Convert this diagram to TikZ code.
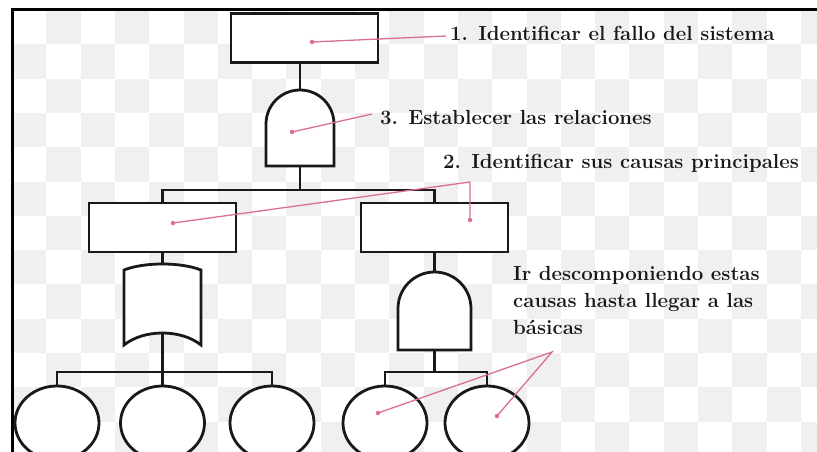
\documentclass[tikz,border=0pt]{standalone}
\usepackage{fontspec}
\usetikzlibrary{shapes.geometric}
\definecolor{pinkln}{RGB}{218,112,142}
\definecolor{checker}{RGB}{240,240,240}
\definecolor{txt}{RGB}{25,25,25}
\begin{document}
\begin{tikzpicture}[x=1pt,y=-1pt,
  ln/.style={line width=2.8pt,draw=black!90},
  box/.style={ln,rectangle,minimum width=147pt,minimum height=49pt,inner sep=0pt,fill=white},
  leaf/.style={ln,ellipse,minimum width=84pt,minimum height=74pt,inner sep=0pt,fill=white},
  gatefill/.style={ln,fill=white},
  pk/.style={draw=pinkln,line width=1.3pt},
  pdot/.style={fill=pinkln,circle,inner sep=0pt,minimum size=4.5pt},
  lbl/.style={inner sep=0pt,text=txt,font=\fontsize{20.4}{27}\selectfont\bfseries,align=left}]
\useasboundingbox (0,0) rectangle (817,452);
\fill[white] (0,0) rectangle (817,452);
% checkerboard background
\begin{scope}
\clip (12,10) rectangle (817,452);
\foreach \i in {0,...,23}{
  \foreach \j in {0,...,12}{
    \pgfmathtruncatemacro\s{\i+\j}
    \ifodd\s
      \fill[checker] ({12+34.3*\i},{10+34.3*\j}) rectangle ++(34.3,34.3);
    \fi
  }
}
\end{scope}
% frame (top and left visible)
\draw[line width=3pt,black] (12,460) -- (12,10) -- (830,10);

% nodes
\node[box] (b0) at (304.5,38) {};
\node[box] (b1) at (162.5,227.5) {};
\node[box] (b2) at (434.5,227.5) {};
\node[leaf] (e1) at (57,423) {};
\node[leaf] (e2) at (162.5,423) {};
\node[leaf] (e3) at (272,423) {};
\node[leaf] (e4) at (385,423) {};
\node[leaf] (e5) at (487,423) {};

% gate 1 (AND)
\coordinate (g1t) at (300,90);
\coordinate (g1b) at (300,166);
\draw[gatefill] (266,166) -- (266,124) arc[start angle=180,end angle=0,radius=34pt] -- (334,166) -- cycle;
% gate 2 (OR)
\coordinate (g2t) at (162.5,265);
\coordinate (g2b) at (162.5,333);
\draw[gatefill] (124,270) .. controls (144,262) and (181,262) .. (201,270) -- (201,345) .. controls (181,329) and (144,329) .. (124,345) -- cycle;
% gate 3 (AND)
\coordinate (g3t) at (434.5,272);
\coordinate (g3b) at (434.5,350);
\draw[gatefill] (398,350) -- (398,308.5) arc[start angle=180,end angle=0,radius=36.5pt] -- (471,350) -- cycle;

% junctions
\coordinate (j1) at (300,190);
\coordinate (j2) at (162.5,372);
\coordinate (j3) at (434.5,372);

% connectors
\draw[ln] (b0.south -| g1t) -- (g1t);
\draw[ln] (g1b) -- (j1);
\draw[ln] (b1.north) |- (j1) -| (b2.north);
\draw[ln] (b1.south) -- (g2t);
\draw[ln] (g2b) -- (j2);
\draw[ln] (e1.north) |- (j2) -| (e3.north);
\draw[ln] (j2) -- (e2.north);
\draw[ln] (b2.south) -- (g3t);
\draw[ln] (g3b) -- (j3);
\draw[ln] (e4.north) |- (j3) -| (e5.north);

% labels
\node[lbl,anchor=west] (t1) at (450,33) {1. Identificar el fallo del sistema};
\node[lbl,anchor=west] (t3) at (380,118) {3. Establecer las relaciones};
\node[lbl,anchor=west] (t2) at (443,163) {2. Identificar sus causas principales};
\node[lbl,anchor=west] (t4) at (513,300) {Ir descomponiendo estas\\causas hasta llegar a las\\básicas};

% pink pointers
\node[pdot] (p1) at (312,42) {};
\node[pdot] (p3) at (292,132) {};
\node[pdot] (p2a) at (173,223) {};
\node[pdot] (p2b) at (470,220) {};
\node[pdot] (p4a) at (378,413) {};
\node[pdot] (p4b) at (497,416) {};
\coordinate (c1) at (446,36);
\coordinate (c3) at (372,114);
\coordinate (c2) at (470,182);
\coordinate (c4) at (552,352);
\draw[pk] (p1.center) -- (c1);
\draw[pk] (p3.center) -- (c3);
\draw[pk] (p2a.center) -- (c2) -- (p2b.center);
\draw[pk] (p4a.center) -- (c4) -- (p4b.center);
\end{tikzpicture}
\end{document}
